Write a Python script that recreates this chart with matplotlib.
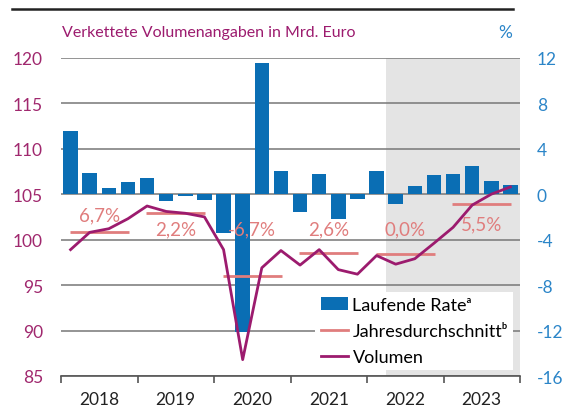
import matplotlib
matplotlib.use("Agg")
import matplotlib.pyplot as plt
from matplotlib.lines import Line2D
from matplotlib.patches import Patch

plt.rcParams['font.family'] = ['Lato', 'DejaVu Sans']
plt.rcParams['axes.unicode_minus'] = False

# ---- data ----
years = ["2018", "2019", "2020", "2021", "2022", "2023"]
# quarterly rate, % (right axis)
rate = [5.6, 1.9, 0.5, 1.1,
        1.4, -0.6, -0.2, -0.5,
        -3.4, -12.1, 11.5, 2.0,
        -1.6, 1.8, -2.2, -0.4,
        2.0, -0.9, 0.7, 1.7,
        1.8, 2.5, 1.2, 0.8]
# chained volumes, bn euro (left axis)
volume = [98.9, 100.8, 101.2, 102.3,
          103.7, 103.1, 102.9, 102.5,
          98.9, 86.8, 96.9, 98.8,
          97.2, 98.9, 96.7, 96.2,
          98.25, 97.3, 97.9, 99.6,
          101.35, 103.8, 105.0, 105.8]
# annual average level (left axis) and annual growth labels
avg_level = [100.8, 102.9, 96.0, 98.55, 98.4, 103.9]
avg_label = ["6,7%", "2,2%", "-6,7%", "2,6%", "0,0%", "5,5%"]
label_y = [102.75, 101.2, 101.2, 101.2, 101.2, 101.75]

BLUE = "#0A6EB4"
MAGENTA = "#9C1B6E"
SALMON = "#E07D7D"
TICK_L = "#A0286E"
TICK_R = "#2B85C8"

fig = plt.figure(figsize=(5.63, 4.10), dpi=100)
ax2 = fig.add_axes([61 / 563, 1 - 377 / 410, 459 / 563, (377 - 58.8) / 410])
ax = ax2.twinx()

x = list(range(len(rate)))

# right axis: bars, grid, shading
ax2.axvspan(16.5, 23.5, color="#E4E4E4", zorder=0, lw=0)
for g in range(-16, 13, 4):
    ax2.axhline(g, color="#777777", lw=1.1, zorder=1)
ax2.bar(x, rate, width=0.76, color=BLUE, zorder=2)
ax2.set_ylim(-16, 12)
ax2.set_yticks(range(-16, 13, 4))
ax2.set_xlim(-0.5, 23.5)

# left axis: line and averages on top
ax.set_zorder(ax2.get_zorder() + 1)
ax.patch.set_visible(False)
ax.plot(x, volume, color=MAGENTA, lw=2, zorder=5)
for i, lvl in enumerate(avg_level):
    ax.hlines(lvl, i * 4 - 0.05, i * 4 + 3.05, color=SALMON, lw=2, zorder=4)
    ax.text(i * 4 + 1.5, label_y[i], avg_label[i], color=SALMON,
            fontsize=13.5, ha="center", va="center", zorder=4)
ax.set_ylim(85, 120)
ax.set_yticks(range(85, 121, 5))
ax.set_xlim(-0.5, 23.5)

# axis styling: left labels on the left, right labels on the right
ax.yaxis.tick_left()
ax2.yaxis.tick_right()
ax.tick_params(axis="y", length=0, labelsize=12.5, labelcolor=TICK_L, pad=13)
ax2.tick_params(axis="y", length=0, labelsize=12.5, labelcolor=TICK_R, pad=12)
for a in (ax, ax2):
    for s in ("top", "left", "right"):
        a.spines[s].set_visible(False)
ax.spines["bottom"].set_visible(False)
ax2.spines["bottom"].set_color("#555555")
ax2.spines["bottom"].set_linewidth(1.2)

ax.set_xticks([])
ax2.set_xticks([i * 4 - 0.5 for i in range(7)])
ax2.set_xticklabels([])
ax2.set_xticks([i * 4 + 1.5 for i in range(6)], minor=True)
ax2.set_xticklabels(years, minor=True)
ax2.tick_params(axis="x", which="major", length=5, width=1.2, color="#555555")
ax2.tick_params(axis="x", which="minor", length=0, labelsize=12.5,
                labelcolor="#222222", pad=11)

# legend
handles = [Patch(facecolor=BLUE, edgecolor="none"),
           Line2D([], [], color=SALMON, lw=2),
           Line2D([], [], color=MAGENTA, lw=2)]
labels = ["Laufende Rate\u1d43", "Jahresdurchschnitt\u1d47", "Volumen"]
leg = ax.legend(handles, labels, loc="lower right", bbox_to_anchor=(0.985, 0.018),
                fontsize=13, frameon=True, fancybox=False, framealpha=1,
                edgecolor="none", facecolor="white", handlelength=1.5,
                handletextpad=0.25, labelspacing=0.55, borderpad=0.3,
                borderaxespad=0.0)
leg.set_zorder(10)

# header texts and rule
fig.text(62 / 563, 1 - 33 / 410, "Verkettete Volumenangaben in Mrd. Euro",
         color=MAGENTA, fontsize=11.5, va="center", ha="left")
fig.text(505 / 563, 1 - 33 / 410, "%", color=TICK_R, fontsize=12.5,
         va="center", ha="center")
fig.add_artist(Line2D([12 / 563, 513 / 563], [1 - 9.5 / 410, 1 - 9.5 / 410],
                      color="#222222", lw=1.8))

fig.savefig("out.png", dpi=100)
